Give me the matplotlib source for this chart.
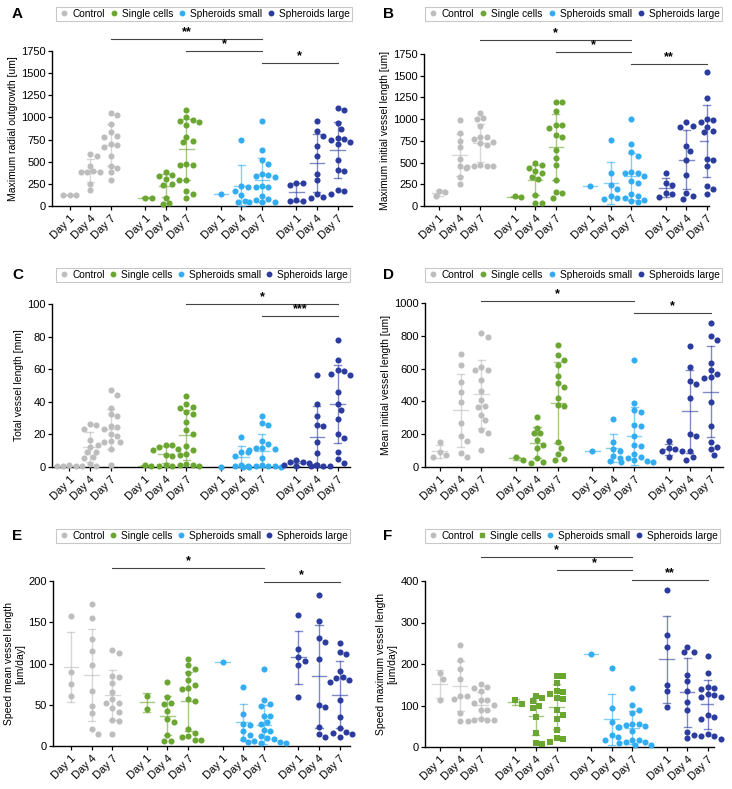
import numpy as np
import matplotlib.pyplot as plt
from matplotlib.lines import Line2D

plt.rcParams['font.family'] = ['Liberation Sans', 'DejaVu Sans']

groups = ["Control", "Single cells", "Spheroids small", "Spheroids large"]
days = ["Day 1", "Day 4", "Day 7"]
colors = ["#BDBDBD", "#6BA532", "#33ADF2", "#2B3C9E"]

# A - maximum radial outgrowth [um]
a_control = [[120, 120, 125],
             [590, 560, 455, 380, 380, 385, 390, 250, 180],
             [1045, 1030, 925, 830, 790, 780, 700, 690, 670, 560, 450, 430, 380, 290]]
a_single = [[90, 95],
            [385, 345, 335, 305, 290, 250, 240, 95, 35, 25],
            [1085, 1010, 975, 960, 950, 920, 780, 730, 720, 470, 465, 460, 290, 165, 140, 95]]
a_small = [[135],
           [745, 225, 220, 175, 125, 60, 50],
           [965, 630, 520, 470, 360, 345, 340, 330, 225, 220, 215, 110, 75, 70, 50, 45, 40]]
a_large = [[265, 260, 240, 70, 60, 60],
           [960, 845, 790, 680, 565, 365, 295, 140, 100, 85],
           [1110, 1085, 940, 875, 770, 760, 740, 720, 700, 520, 410, 400, 185, 165, 140]]

# B - maximum initial vessel length [um]
b_control = [[175, 165, 115],
             [985, 840, 750, 675, 540, 460, 435, 330, 250],
             [1075, 1010, 1000, 920, 800, 790, 770, 740, 720, 700, 470, 465, 460, 455, 450]]
b_single = [[105, 110],
            [490, 470, 440, 400, 380, 330, 310, 130, 40, 35],
            [1195, 1200, 1090, 930, 935, 900, 815, 800, 640, 555, 475, 300, 165, 150, 95]]
b_small = [[225],
           [760, 380, 245, 195, 110, 95, 75],
           [1000, 710, 625, 575, 395, 385, 380, 340, 290, 270, 140, 120, 95, 70, 55, 45]]
b_large = [[380, 270, 240, 145, 140, 100],
           [965, 920, 910, 690, 630, 525, 355, 150, 120, 85],
           [1540, 1245, 1000, 995, 965, 910, 860, 850, 545, 530, 460, 225, 200, 140]]

# C - total vessel length [mm]
c_control = [[1.0, 0.8, 0.5, 0.6, 0.4],
             [26.5, 25.5, 23.5, 16.5, 12.5, 9.5, 9, 6, 5.5, 2, 0.5],
             [47, 44, 36.5, 32.5, 31, 25, 24.5, 23.5, 20.5, 19, 16, 15.5, 15.5, 13.5, 11, 1]]
c_single = [[0.5, 1.0],
            [13.5, 13.5, 12.5, 11, 10.5, 7.5, 7, 1, 0.5, 0.5],
            [43.5, 38.5, 37, 36.5, 33.5, 32.5, 27.5, 23, 20, 13, 10.5, 8, 7.5, 2, 1.5, 1, 0.5]]
c_small = [[0.2],
           [18.5, 9, 9, 6.5, 1, 0.5, 0.5],
           [31.5, 27, 26, 16, 14, 11.5, 11.5, 11, 10.5, 5.5, 1, 0.5, 0.5, 0.5, 0.3, 0.3, 0.2]]
c_large = [[4.5, 3, 3, 2.5, 1.5, 1, 0.5],
           [56.5, 38.5, 31.5, 26, 25, 15.5, 8.5, 1, 0.5, 0.5, 0.5],
           [78, 65.5, 59.5, 59, 57, 56.5, 46, 38.5, 35, 29.5, 20, 17.5, 9, 5, 2.5]]

# D - mean initial vessel length [um]
d_control = [[155, 90, 75, 60],
             [690, 620, 520, 460, 395, 270, 190, 160, 85, 60],
             [815, 795, 590, 590, 610, 530, 465, 410, 375, 365, 320, 285, 225, 210, 105]]
d_single = [[45, 60],
            [305, 240, 205, 205, 165, 135, 115, 55, 30, 25],
            [745, 680, 650, 620, 555, 515, 490, 420, 380, 375, 150, 115, 80, 50, 45]]
d_small = [[100],
           [290, 155, 110, 100, 70, 55, 35],
           [650, 390, 350, 335, 255, 250, 190, 135, 130, 80, 60, 55, 40, 35, 30, 30]]
d_large = [[160, 115, 110, 100, 100, 60],
           [735, 610, 525, 505, 420, 200, 190, 95, 60, 45],
           [880, 800, 775, 635, 590, 570, 550, 540, 395, 250, 150, 120, 110, 75]]

# E - speed mean vessel length [um/day]
e_control = [[157, 90, 75, 61],
             [172, 155, 130, 115, 98, 67, 48, 40, 21, 15],
             [116, 113, 85, 84, 76, 65, 57, 52, 52, 46, 41, 32, 30, 15]]
e_single = [[61, 45],
            [77, 59, 52, 51, 42, 33, 29, 13, 6, 6],
            [106, 98, 93, 89, 80, 74, 70, 69, 57, 55, 21, 16, 12, 11, 7, 7]]
e_small = [[102],
           [72, 39, 27, 25, 18, 13, 9],
           [93, 56, 51, 49, 36, 36, 29, 27, 19, 18, 12, 10, 8, 6, 5, 5, 4, 4]]
e_large = [[159, 117, 108, 103, 98, 59],
           [183, 152, 131, 126, 105, 50, 47, 23, 15, 11],
           [125, 114, 111, 91, 84, 82, 80, 77, 56, 35, 22, 17, 16, 15, 11]]

# F - speed maximum vessel length [um/day]
f_control = [[178, 165, 113],
             [245, 210, 187, 165, 124, 122, 115, 83, 62],
             [153, 145, 143, 135, 114, 113, 106, 102, 90, 90, 68, 66, 65, 64, 63]]
f_single = [[113, 103],
            [123, 118, 110, 100, 95, 72, 33, 9, 8],
            [171, 170, 155, 134, 133, 128, 119, 115, 90, 78, 68, 42, 22, 20, 13]]
f_small = [[223],
           [190, 95, 60, 48, 29, 25, 18],
           [143, 102, 90, 83, 55, 55, 53, 50, 48, 38, 18, 17, 13, 12, 10, 5, 4]]
f_large = [[378, 270, 242, 150, 134, 97],
           [242, 230, 228, 174, 158, 135, 108, 88, 36, 28, 21],
           [220, 179, 144, 142, 140, 127, 125, 121, 120, 78, 73, 67, 32, 27, 26, 19]]

# significance brackets: (from group/day index, to group/day index, height, label)
a_sig = [(2, 8, 1890, "**"), (5, 8, 1750, "*"), (8, 11, 1610, "*")]
b_sig = [(2, 8, 1915, "*"), (5, 8, 1770, "*"), (8, 11, 1640, "**")]
c_sig = [(5, 11, 100, "*"), (8, 11, 92.4, "***")]
d_sig = [(2, 8, 1010, "*"), (8, 11, 940, "*")]
e_sig = [(2, 8, 216, "*"), (8, 11, 199, "*")]
f_sig = [(2, 8, 459, "*"), (5, 8, 426, "*"), (8, 11, 402, "**")]

W, H = 732, 789
fig = plt.figure(figsize=(W / 100, H / 100), dpi=100)

xpos = [g * 11 / 3 + d for g in range(4) for d in range(3)]
MS = 4.4  # marker size, pt
FS = 8


def frac(l, t, r, b):
    return [l / W, 1 - b / H, (r - l) / W, (b - t) / H]


def swarm(vals, ppu_x, ppu_y, d):
    vals = np.asarray(vals, float)
    order = np.argsort(-vals)
    placed = []
    off = np.zeros(len(vals))
    step = d * 0.5
    cands = [0]
    for k in range(1, 30):
        cands += [k * step, -k * step]
    for i in order:
        y = vals[i] * ppu_y
        for x in cands:
            if all((x - px) ** 2 + (y - py) ** 2 >= (d * 0.95) ** 2 for px, py in placed):
                placed.append((x, y))
                off[i] = x / ppu_x
                break
    return off


def panel(box, xlim, ylim, yticks, ylabel, data, sig, lbox, markers):
    ax = fig.add_axes(frac(*box))
    wpx = box[2] - box[0]
    hpx = box[3] - box[1]
    ppu_x = wpx / (xlim[1] - xlim[0])
    ppu_y = hpx / (ylim[1] - ylim[0])
    dpx = MS * 100 / 72 * 1.05
    k = 0
    for g, series in enumerate(data):
        for dd, vals in enumerate(series):
            x0 = xpos[k]
            off = swarm(vals, ppu_x, ppu_y, dpx)
            ax.scatter(x0 + off, vals, s=MS ** 2, color=colors[g], marker=markers[g],
                       linewidths=0, zorder=3, clip_on=False)
            m = np.mean(vals)
            ax.plot([x0 - 0.35, x0 + 0.35], [m, m], color=colors[g], lw=1.0, alpha=0.6, zorder=4)
            if len(vals) > 1:
                sd = np.std(vals, ddof=1)
                lo = max(m - sd, 0)
                ax.plot([x0, x0], [lo, m + sd], color=colors[g], lw=1.0, alpha=0.6, zorder=4)
                for yy in (lo, m + sd):
                    ax.plot([x0 - 0.17, x0 + 0.17], [yy, yy], color=colors[g], lw=1.0,
                            alpha=0.6, zorder=4, clip_on=False)
            k += 1
    ax.set_xlim(*xlim)
    ax.set_ylim(*ylim)
    ax.set_yticks(yticks)
    ax.set_xticks(xpos)
    ax.set_xticklabels(days * 4, rotation=45, ha="right", rotation_mode="anchor", fontsize=FS)
    ax.tick_params(axis="y", labelsize=FS, length=3, width=0.9, pad=1.5)
    ax.tick_params(axis="x", length=3, width=0.9, pad=2)
    for s in ("top", "right"):
        ax.spines[s].set_visible(False)
    for s in ("left", "bottom"):
        ax.spines[s].set_linewidth(1.0)
    ax.set_ylabel(ylabel, fontsize=7.5, labelpad=2)

    for i, j, h, lab in sig:
        ax.plot([xpos[i], xpos[j]], [h, h], color="#444444", lw=0.8, clip_on=False)
        ax.text((xpos[i] + xpos[j]) / 2, h + (ylim[1] - ylim[0]) * 0.005, lab,
                ha="center", va="bottom", fontsize=9, fontweight="bold")

    handles = [Line2D([], [], ls="none", marker=markers[g], color=colors[g], ms=3.2)
               for g in range(4)]
    lg = fig.legend(handles, groups, loc="center", ncol=4, mode="expand",
                    bbox_to_anchor=frac(*lbox), fontsize=7.3, frameon=True,
                    fancybox=False, handletextpad=0.2, borderpad=0.2,
                    borderaxespad=0, handlelength=1.2, columnspacing=0.5)
    lg.get_frame().set_edgecolor("#BBBBBB")
    lg.get_frame().set_linewidth(0.8)
    return ax


circ = ["o", "o", "o", "o"]
panel((52, 51, 352, 206), (-0.85, 13.7), (0, 1750), range(0, 1751, 250),
      "Maximum radial outgrowth [um]", [a_control, a_single, a_small, a_large],
      a_sig, (56, 8, 352, 20), circ)
panel((424, 54, 709, 206), (-0.73, 13.1), (0, 1750), range(0, 1751, 250),
      "Maximum initial vessel length [um]", [b_control, b_single, b_small, b_large],
      b_sig, (425, 8, 722, 20), circ)
panel((52, 304, 350, 467), (-0.84, 13.6), (0, 100), range(0, 101, 20),
      "Total vessel length [mm]", [c_control, c_single, c_small, c_large],
      c_sig, (56, 269, 350, 281), circ)
panel((425, 303, 723, 467), (-0.71, 13.6), (0, 1000), range(0, 1001, 200),
      "Mean initial vessel length [um]", [d_control, d_single, d_small, d_large],
      d_sig, (425, 269, 722, 281), circ)
panel((53, 581, 350, 746), (-0.87, 13.5), (0, 200), range(0, 201, 50),
      "Speed mean vessel length\n[um/day]", [e_control, e_single, e_small, e_large],
      e_sig, (56, 530, 350, 542), circ)
panel((425, 581, 714, 747), (-0.71, 13.3), (0, 400), range(0, 401, 100),
      "Speed maximum vessel length\n[um/day]", [f_control, f_single, f_small, f_large],
      f_sig, (425, 530, 720, 542), ["o", "s", "o", "o"])

for lab, x, y in [("A", 12, 14), ("B", 383, 14), ("C", 12, 275),
                  ("D", 383, 275), ("E", 12, 536), ("F", 383, 536)]:
    fig.text(x / W, 1 - y / H, lab, fontsize=11, fontweight="bold", va="center", ha="left")

fig.savefig("out.png", dpi=100)
